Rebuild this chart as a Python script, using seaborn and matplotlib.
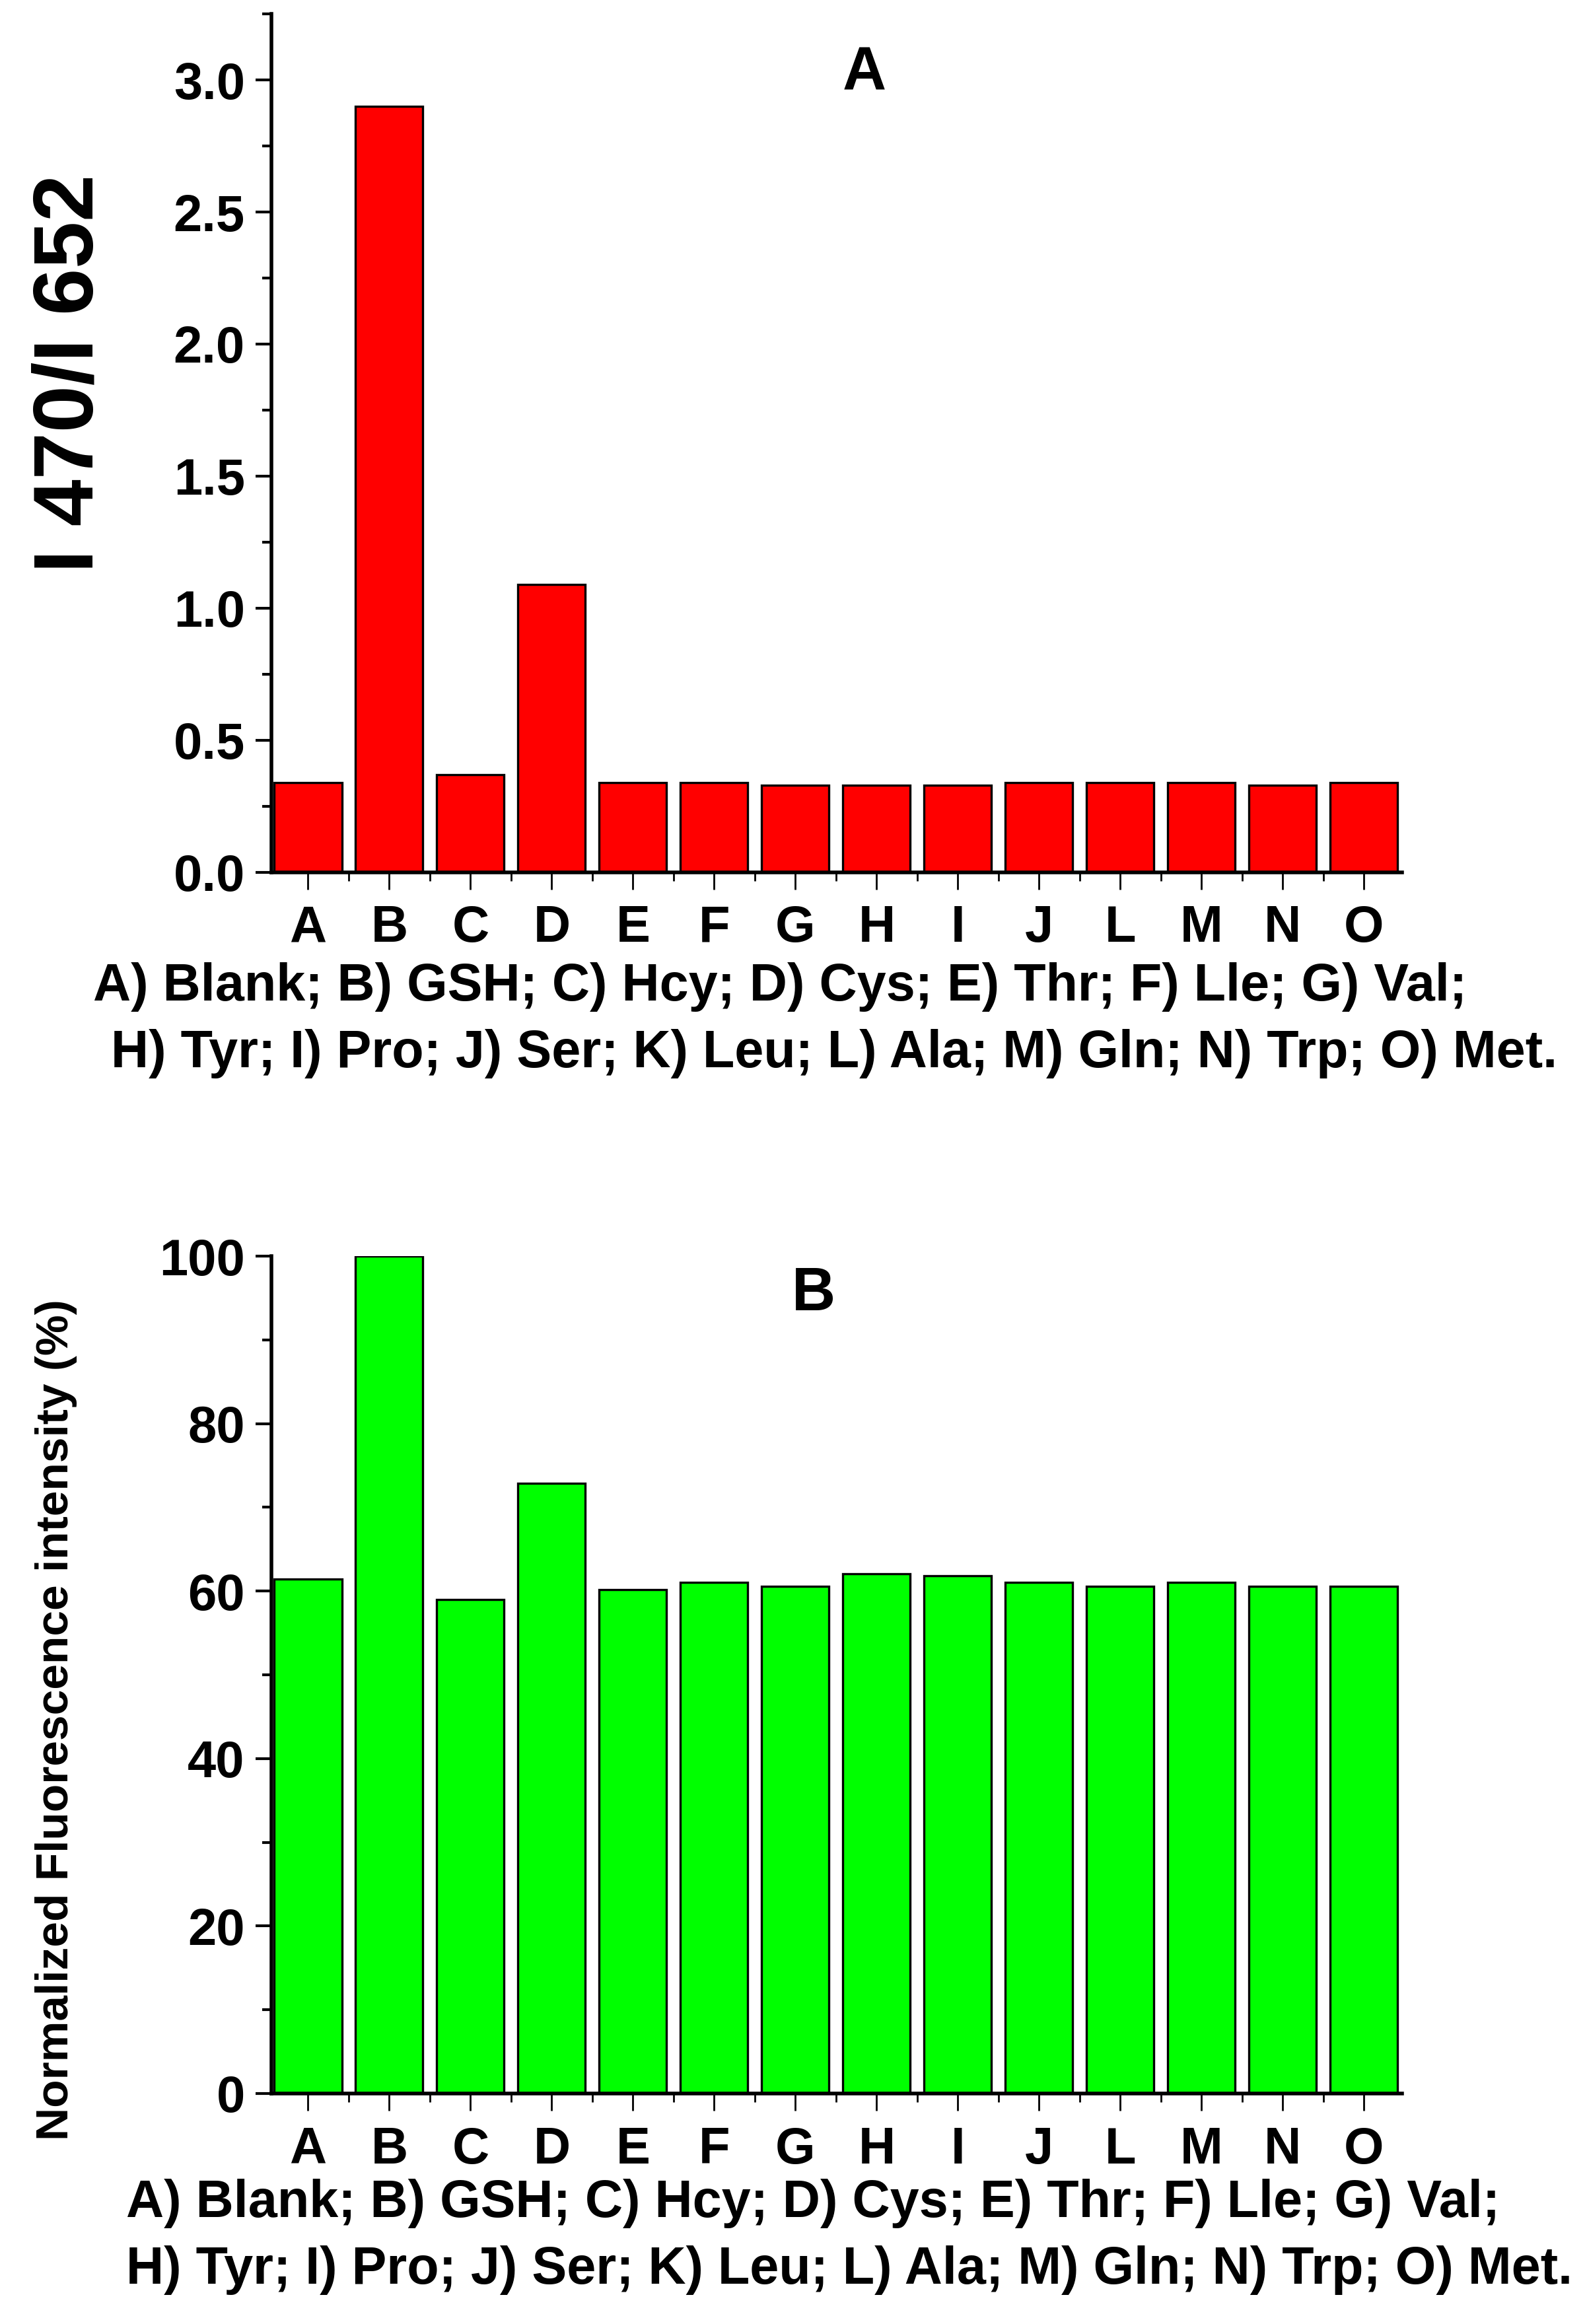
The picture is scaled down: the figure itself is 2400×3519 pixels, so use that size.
import pandas as pd
import matplotlib
matplotlib.use("Agg")
import matplotlib.pyplot as plt
import seaborn as sns
from matplotlib.ticker import MultipleLocator, FixedLocator, FormatStrFormatter

# bar categories and values
categories = ['A', 'B', 'C', 'D', 'E', 'F', 'G', 'H', 'I', 'J', 'L', 'M', 'N', 'O']
ratio_values = [0.34, 2.90, 0.37, 1.09, 0.34, 0.34, 0.33, 0.33, 0.33, 0.34, 0.34, 0.34, 0.33, 0.34]
norm_values = [61.4, 100.0, 59.0, 72.9, 60.2, 61.0, 60.6, 62.1, 61.8, 61.0, 60.6, 61.0, 60.6, 60.6]

caption_line1 = "A) Blank; B) GSH; C) Hcy; D) Cys; E) Thr; F) Lle; G) Val;"
caption_line2 = "H) Tyr; I) Pro; J) Ser; K) Leu; L) Ala; M) Gln; N) Trp; O) Met."

sns.set_style("ticks")
plt.rcParams['font.family'] = ['Liberation Sans', 'DejaVu Sans']
plt.rcParams['font.weight'] = 'bold'
plt.rcParams['text.color'] = 'black'
plt.rcParams['axes.labelcolor'] = 'black'
plt.rcParams['xtick.color'] = 'black'
plt.rcParams['ytick.color'] = 'black'

df = pd.DataFrame({'cat': categories, 'ratio': ratio_values, 'norm': norm_values})

fig = plt.figure(figsize=(12, 17.595), dpi=200)
ax1 = fig.add_axes([0.1713, 0.6247, 0.7133, 0.3693])
ax2 = fig.add_axes([0.1713, 0.0992, 0.7133, 0.3603])


def style_axis(ax, ymax, major, minor, fmt):
    ax.set_xlim(-0.45, 13.47)
    ax.set_ylim(0, ymax)
    sns.despine(ax=ax)
    for side in ['left', 'bottom']:
        ax.spines[side].set_linewidth(2.0)
        ax.spines[side].set_color('black')
    ax.yaxis.set_major_locator(MultipleLocator(major))
    ax.yaxis.set_minor_locator(MultipleLocator(minor))
    ax.yaxis.set_major_formatter(FormatStrFormatter(fmt))
    ax.xaxis.set_minor_locator(FixedLocator([i + 0.5 for i in range(13)]))
    ax.tick_params(axis='y', which='major', direction='out', length=8.5, width=1.5,
                   labelsize=28, pad=6, color='black', labelcolor='black')
    ax.tick_params(axis='y', which='minor', direction='out', length=5, width=1.5, color='black')
    ax.tick_params(axis='x', which='major', direction='out', length=9.5, width=1.0,
                   labelsize=28, pad=8, color='black', labelcolor='black')
    ax.tick_params(axis='x', which='minor', direction='out', length=4.5, width=1.0, color='black')
    for lab in ax.get_xticklabels() + ax.get_yticklabels():
        lab.set_fontweight('bold')
    ax.set_xlabel('')
    ax.set_facecolor('white')


sns.barplot(data=df, x='cat', y='ratio', color='#ff0000', saturation=1,
            edgecolor='black', linewidth=1.2, width=0.83, ax=ax1)
style_axis(ax1, 3.25, 0.5, 0.25, '%.1f')
ax1.set_ylabel('')

sns.barplot(data=df, x='cat', y='norm', color='#00ff00', saturation=1,
            edgecolor='black', linewidth=1.2, width=0.83, ax=ax2)
style_axis(ax2, 100, 20, 10, '%d')
ax2.set_ylabel('')

# y labels
fig.text(0.045, 0.8394, 'I 470/I 652', rotation=90, fontsize=46, fontweight='bold',
         ha='center', va='center')
fig.text(0.0354, 0.26, 'Normalized Fluorescence intensity (%)', rotation=90, fontsize=25,
         fontweight='bold', ha='center', va='center')

# panel letters
fig.text(0.5454, 0.9682, 'A', fontsize=33, fontweight='bold', ha='center', va='center')
fig.text(0.5133, 0.443, 'B', fontsize=33, fontweight='bold', ha='center', va='center')

# captions under each panel
fig.text(0.0588, 0.5752, caption_line1, fontsize=28.5, fontweight='bold', ha='left', va='center')
fig.text(0.0700, 0.5465, caption_line2, fontsize=28.5, fontweight='bold', ha='left', va='center')
fig.text(0.0796, 0.0520, caption_line1, fontsize=28.5, fontweight='bold', ha='left', va='center')
fig.text(0.0796, 0.0233, caption_line2, fontsize=28.5, fontweight='bold', ha='left', va='center')

fig.savefig('out.png', dpi=200, facecolor='white')
